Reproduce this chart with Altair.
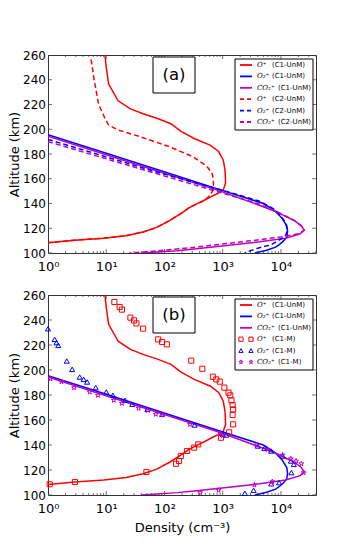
import altair as alt
import pandas as pd

# ---------------- data (altitude km, density cm^-3) ----------------
alt_op_c1 = [260, 250, 236.5, 223, 216.5, 212.5, 208.5, 204.5, 198.5, 192.5, 187, 182, 175, 167,
             156.5, 151, 148.5, 146, 143, 140.5, 136.5, 132.5, 126, 120.5, 117, 114, 112, 110.4, 108.3]
den_op_c1 = [9.5, 10, 11, 16, 26, 43, 78, 129, 190, 324, 617, 851, 1023, 1096,
             1122, 1023, 851, 661, 501, 389, 263, 200, 120, 72, 43, 22, 9.1, 2.9, 1.0]

alt_op_c2 = [256.5, 240, 220, 207.5, 203.4, 199.4, 194, 186, 178, 170, 164, 159, 153.6, 149.6,
             145.5, 141.5, 140.5, 136.5, 132.5, 126, 120.5, 117, 114, 112, 110.4, 108.3]
den_op_c2 = [5.5, 6.2, 7.4, 9.8, 11, 16, 38, 120, 302, 537, 661, 692, 692, 661,
             575, 447, 389, 263, 200, 120, 72, 43, 22, 9.1, 2.9, 1.0]

alt_o2_c1 = [195.5, 180, 165, 150, 140, 134, 128, 122, 117.5, 113, 110, 107, 104.7, 102, 100]
den_o2_c1 = [1.0, 11, 108, 1070, 5000, 7900, 10500, 12600, 13000, 12600, 11200, 9500, 8100, 5500, 3550]

alt_co2_c1 = [194.4, 180, 165, 150, 137, 133, 130, 126.5, 122, 118.5, 115.5, 112, 109, 106, 103.2, 101.9, 100]
den_co2_c1 = [1.0, 9.1, 91, 910, 5250, 8500, 11500, 16600, 22400, 25100, 21400, 12000, 4300, 1170, 324, 166, 40]

alt_o2_c2 = [191.8, 165, 150, 142, 135, 125, 118, 113, 110.5, 106.6, 103.9, 101.2, 100]
den_o2_c2 = [1.0, 79, 1120, 4200, 8000, 12000, 12900, 11700, 9300, 6800, 4000, 2700, 2400]

alt_co2_c2 = [190, 165, 150, 140, 133, 126.5, 122, 118.5, 115.5, 113, 110, 107, 104, 101, 100]
den_co2_c2 = [1.0, 63, 760, 4000, 8900, 16600, 22400, 25100, 20000, 10000, 3200, 890, 250, 50, 25]

# measured (C1-M) points, panel (b)
alt_op_m = [254.4, 250.4, 248.3, 241.9, 239.7, 237.3, 233.1, 224.5, 222.4, 220.5, 207.5, 201.0,
            194.6, 192.5, 190.7, 185.9, 181.9, 179.7, 175.7, 172.0, 168.5, 164.0, 156.5, 150.1,
            145.8, 140.5, 137.9, 135.2, 131.2, 127.2, 125.0, 118.4, 110.4, 108.6]
den_op_m = [13.8, 17, 18.6, 26, 30, 33, 43, 78, 91, 110, 288, 447,
            676, 776, 891, 1070, 1260, 1350, 1410, 1480, 1510, 1480, 1510, 1290,
            933, 380, 324, 245, 191, 178, 158, 49, 2.9, 1.07]

alt_o2_m = [233, 224.5, 221.9, 219.7, 207.2, 200.5, 194.4, 192.5, 190.4, 185.9, 182.4, 179.8,
            175.8, 172.6, 168.5, 164.6, 156, 148.5, 148, 139.2, 137.3, 135.2, 131.2, 127.2,
            124.5, 117.9, 109.9, 109, 103.8, 101.4]
den_o2_m = [1.0, 1.3, 1.4, 1.5, 2.1, 2.6, 3.5, 4.1, 4.7, 6.6, 10, 13,
            21, 28, 51, 91, 330, 1000, 1150, 4000, 5200, 6800, 10700, 14800,
            16600, 15100, 9300, 6800, 3400, 2400]

alt_co2_m = [193, 190.7, 185.9, 182.4, 179.8, 175.8, 173.4, 169.4, 167.8, 164.6, 164, 156.5,
             149, 147.6, 140, 136.5, 132, 129, 127.2, 125, 117.9, 110.7, 108, 103.8, 101.9]
den_co2_m = [1.1, 1.7, 2.8, 5.2, 7.2, 13.5, 18.6, 36, 52, 71, 93, 275,
             910, 1000, 3800, 5900, 10700, 14800, 18200, 22400, 24500, 7100, 3500, 850, 410]

x_major = [1, 10, 100, 1000, 10000]
x_labels = ['10\u2070', '10\u00b9', '10\u00b2', '10\u00b3', '10\u2074']
y_ticks = [100, 120, 140, 160, 180, 200, 220, 240, 260]
X_DOMAIN = [1, 40000]
Y_DOMAIN = [100, 260]

legend_a = [("O\u207a", "(C1-UnM)", "#ff0000", "line"),
            ("O\u2082\u207a", "(C1-UnM)", "#0000ff", "line"),
            ("CO\u2082\u207a", "(C1-UnM)", "#bf00bf", "line"),
            ("O\u207a", "(C2-UnM)", "#ff0000", "dash"),
            ("O\u2082\u207a", "(C2-UnM)", "#0000ff", "dash"),
            ("CO\u2082\u207a", "(C2-UnM)", "#bf00bf", "dash")]
legend_b = [("O\u207a", "(C1-UnM)", "#ff0000", "line"),
            ("O\u2082\u207a", "(C1-UnM)", "#0000ff", "line"),
            ("CO\u2082\u207a", "(C1-UnM)", "#bf00bf", "line"),
            ("O\u207a", "(C1-M)", "#ff0000", "square"),
            ("O\u2082\u207a", "(C1-M)", "#0000ff", "triangle-up"),
            ("CO\u2082\u207a", "(C1-M)", "#bf00bf", "star")]

# ---------------- styling ----------------
RED, BLUE, MAG = "#ff0000", "#0000ff", "#bf00bf"
FRAME = "#333333"
W, H_A, H_B = 268, 198, 200
SH = 3   # plot starts a few px right of the reference, so in-plot decorations shift left
STAR = ("M0,-1L0.2245,-0.309L0.951,-0.309L0.363,0.118L0.588,0.809L0,0.382"
        "L-0.588,0.809L-0.363,0.118L-0.951,-0.309L-0.2245,-0.309Z")
DASH = [5, 3]

xscale = alt.Scale(type="log", domain=X_DOMAIN)
yscale = alt.Scale(domain=Y_DOMAIN)
label_expr = "[" + ",".join("'%s'" % s for s in x_labels) + "][round(log(datum.value)/LN10)]"
x_minor = [k * 10 ** e for e in range(0, 5) for k in range(2, 10) if k * 10 ** e <= X_DOMAIN[1]]
one = pd.DataFrame({"a": [0]})


def xaxis(title):
    if title:
        return alt.Axis(values=x_major, labelExpr=label_expr, title=title, labelPadding=7,
                        titlePadding=6, labelFlush=False, labelOverlap=False)
    return alt.Axis(values=x_major, labelExpr=label_expr, title=None, labelPadding=7,
                    labelFlush=False, labelOverlap=False)


YAXIS = alt.Axis(values=y_ticks, title="Altitude (km)", labelPadding=2.5, titlePadding=1,
                 labelFlush=False, labelOverlap=False)


def line_layer(alts, dens, color, xa, dash=None):
    df = pd.DataFrame({"alt": alts, "den": dens, "i": list(range(len(alts)))})
    kw = dict(color=color, strokeWidth=1.5, clip=True)
    if dash:
        kw["strokeDash"] = dash
    return alt.Chart(df).mark_line(**kw).encode(
        x=alt.X("den:Q", scale=xscale, axis=xa),
        y=alt.Y("alt:Q", scale=yscale, axis=YAXIS),
        order="i:Q")


def point_layer(alts, dens, color, shape, xa):
    df = pd.DataFrame({"alt": alts, "den": dens})
    return alt.Chart(df).mark_point(shape=shape, filled=False, color=color, size=26,
                                    strokeWidth=1, opacity=1).encode(
        x=alt.X("den:Q", scale=xscale, axis=xa),
        y=alt.Y("alt:Q", scale=yscale, axis=YAXIS))


def tick_layers(h, xa):
    out = []
    for vals, sz in [(x_major, 8), (x_minor, 4)]:
        df = pd.DataFrame({"v": vals})
        for yy in [0, h]:
            out.append(alt.Chart(df).mark_tick(color=FRAME, thickness=1, size=sz, clip=True,
                                               orient="vertical").encode(
                x=alt.X("v:Q", scale=xscale, axis=xa), y=alt.value(yy)))
    dfy = pd.DataFrame({"v": y_ticks})
    for xx in [0, W]:
        out.append(alt.Chart(dfy).mark_tick(color=FRAME, thickness=1, size=8, clip=True,
                                            orient="horizontal").encode(
            y=alt.Y("v:Q", scale=yscale, axis=YAXIS), x=alt.value(xx)))
    return out


def legend_layers(entries):
    out = [alt.Chart(one).mark_rect(fill="white", stroke="black", strokeWidth=1).encode(
        x=alt.value(190 - SH), x2=alt.value(268 - SH), y=alt.value(4), y2=alt.value(75))]
    for i, (sp, tag, color, kind) in enumerate(entries):
        yy = 10 + 11.4 * i
        if kind in ("line", "dash"):
            kw = dict(color=color, strokeWidth=1.8)
            if kind == "dash":
                kw["strokeDash"] = [4, 3]
            out.append(alt.Chart(one).mark_rule(**kw).encode(
                x=alt.value(195 - SH), x2=alt.value(207 - SH), y=alt.value(yy)))
        else:
            shp = STAR if kind == "star" else kind
            for xx in (196, 206):
                out.append(alt.Chart(one).mark_point(shape=shp, filled=False, color=color, size=18,
                                                     strokeWidth=1, opacity=1).encode(
                    x=alt.value(xx - SH), y=alt.value(yy)))
        out.append(alt.Chart(one).mark_text(align="left", baseline="middle", font="DejaVu Serif",
                                            fontStyle="italic", fontSize=7, color="black").encode(
            x=alt.value(212 - SH), y=alt.value(yy), text=alt.value(sp)))
        tx = 233 if sp.startswith("C") else 227
        out.append(alt.Chart(one).mark_text(align="left", baseline="middle", font="DejaVu Sans",
                                            fontSize=7, color="black").encode(
            x=alt.value(tx - SH), y=alt.value(yy), text=alt.value(tag)))
    return out


def label_box(txt):
    return [alt.Chart(one).mark_rect(fill="white", stroke="black", strokeWidth=1).encode(
                x=alt.value(108 - SH), x2=alt.value(150 - SH), y=alt.value(2), y2=alt.value(38)),
            alt.Chart(one).mark_text(align="center", baseline="middle", font="DejaVu Sans",
                                     fontSize=16.5, color="black").encode(
                x=alt.value(129 - SH), y=alt.value(20), text=alt.value(txt))]


# panel (a)
xa_a = xaxis(None)
layers_a = tick_layers(H_A, xa_a)
layers_a += [line_layer(alt_op_c1, den_op_c1, RED, xa_a),
             line_layer(alt_o2_c1, den_o2_c1, BLUE, xa_a),
             line_layer(alt_co2_c1, den_co2_c1, MAG, xa_a),
             line_layer(alt_op_c2, den_op_c2, RED, xa_a, DASH),
             line_layer(alt_o2_c2, den_o2_c2, BLUE, xa_a, DASH),
             line_layer(alt_co2_c2, den_co2_c2, MAG, xa_a, DASH)]
layers_a += label_box("(a)") + legend_layers(legend_a)
panel_a = alt.layer(*layers_a).properties(width=W, height=H_A)

# panel (b)
xa_b = xaxis("Density (cm\u207b\u00b3)")
layers_b = tick_layers(H_B, xa_b)
layers_b += [line_layer(alt_op_c1, den_op_c1, RED, xa_b),
             line_layer(alt_o2_c1, den_o2_c1, BLUE, xa_b),
             line_layer(alt_co2_c1, den_co2_c1, MAG, xa_b),
             point_layer(alt_op_m, den_op_m, RED, "square", xa_b),
             point_layer(alt_o2_m, den_o2_m, BLUE, "triangle-up", xa_b),
             point_layer(alt_co2_m, den_co2_m, MAG, STAR, xa_b)]
layers_b += label_box("(b)") + legend_layers(legend_b)
panel_b = alt.layer(*layers_b).properties(width=W, height=H_B)

chart = alt.vconcat(panel_a, panel_b, spacing=14).properties(
    padding={"left": 0, "top": 40, "right": 5, "bottom": 5}
).configure_axis(
    labelFont="DejaVu Sans", titleFont="DejaVu Sans", labelFontSize=13, titleFontSize=13,
    titleFontWeight="normal", labelColor="black", titleColor="black",
    grid=False, domain=False, ticks=False
).configure_axisY(labelFontSize=12).configure_view(stroke=FRAME, strokeWidth=1)

chart.save("out.html", embed_options={"renderer": "svg", "actions": False})
